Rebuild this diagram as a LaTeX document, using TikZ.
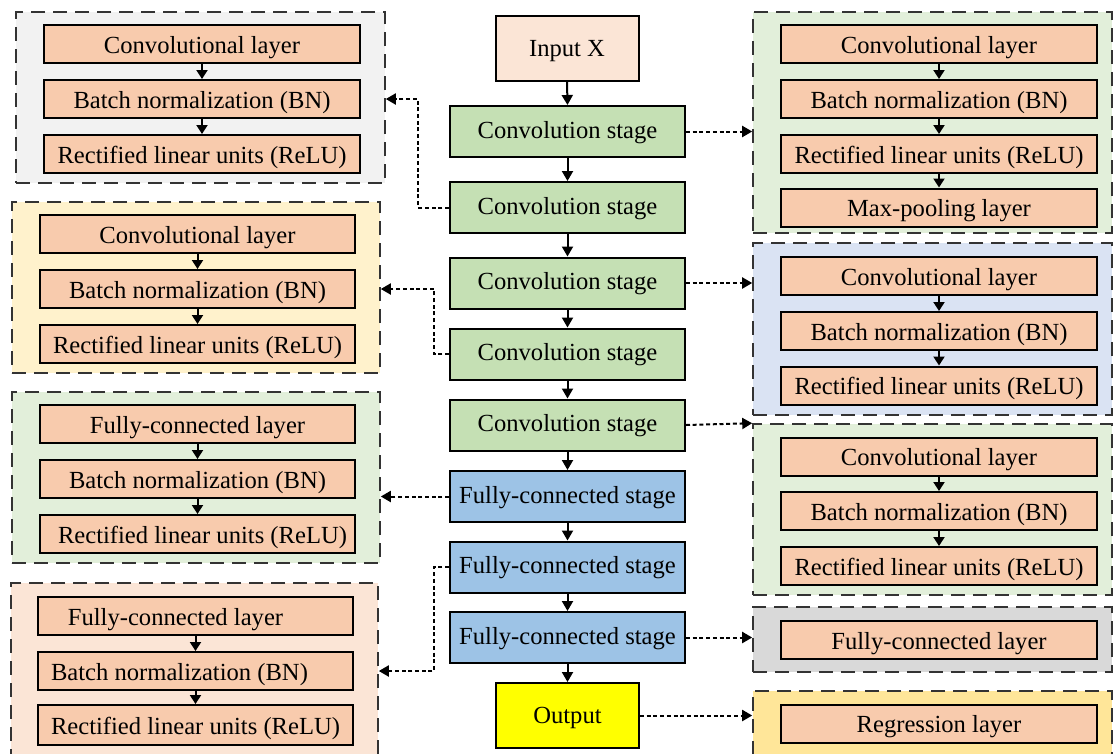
\documentclass[tikz,border=0pt]{standalone}
\usepackage{fontspec}
\setmainfont{Liberation Serif}
\usetikzlibrary{arrows.meta}

\definecolor{grpgray}{HTML}{F2F2F2}
\definecolor{grpyellow}{HTML}{FFF2CC}
\definecolor{grpgreen}{HTML}{E2EFDA}
\definecolor{grppeach}{HTML}{FBE5D6}
\definecolor{grpblue}{HTML}{DAE3F3}
\definecolor{grpdark}{HTML}{D9D9D9}
\definecolor{grpgold}{HTML}{FFE699}
\definecolor{layerfill}{HTML}{F8CBAD}
\definecolor{convfill}{HTML}{C5E0B4}
\definecolor{fcfill}{HTML}{9DC3E6}
\definecolor{inputfill}{HTML}{FBE5D6}
\definecolor{outfill}{HTML}{FFFF00}

\tikzset{
  box/.style={draw=black, line width=2pt, inner sep=0pt, align=center},
  stagebox/.style={box, minimum width=235pt, minimum height=51pt,
    text height=15pt, text depth=1.4pt},
  convbox/.style={stagebox, fill=convfill},
  fcbox/.style={stagebox, fill=fcfill},
  endbox/.style={box, minimum width=143pt, minimum height=65pt,
    text height=17pt, text depth=1pt},
  layerbox/.style={box, fill=layerfill, minimum width=316pt, minimum height=38pt,
    text height=19pt, text depth=0.4pt},
  grp/.style={draw=black!80, line width=1.6pt, dash pattern=on 14pt off 8pt,
    inner sep=0pt},
  flow/.style={line width=2pt, -{Triangle[length=10pt,width=11pt]}},
  tap/.style={line width=2pt, dash pattern=on 4pt off 2.7pt,
    -{Triangle[length=10pt,width=11pt]}},
}

\begin{document}
\begin{tikzpicture}[x=1pt, y=-1pt, font=\fontsize{24.6pt}{29pt}\selectfont]
\useasboundingbox (0,0) rectangle (1115,753);
\clip (0,0) rectangle (1115,753);

% ---- dashed groups (drawn first, behind the layers) ----
\node[grp, fill=grpgray,   minimum width=369pt, minimum height=171pt] (gL1) at (200.5,97.5) {};
\node[grp, fill=grpyellow, minimum width=368pt, minimum height=171pt] (gL2) at (196,287.5) {};
\node[grp, fill=grpgreen,  minimum width=368pt, minimum height=171pt] (gL3) at (196,477.5) {};
\node[grp, fill=grppeach,  minimum width=367pt, minimum height=200pt, overlay] (gL4) at (194.5,683) {};
\node[grp, fill=grpgreen,  minimum width=359pt, minimum height=221pt] (gR1) at (932.5,122.5) {};
\node[grp, fill=grpblue,   minimum width=359pt, minimum height=172pt] (gR2) at (932.5,329) {};
\node[grp, fill=grpgreen,  minimum width=359pt, minimum height=171pt] (gR3) at (932.5,509.5) {};
\node[grp, fill=grpdark,   minimum width=359pt, minimum height=65pt]  (gR4) at (932.5,639.5) {};
\node[grp, fill=grpgold,   minimum width=359pt, minimum height=90pt, overlay]  (gR5) at (932.5,736) {};

% ---- main column ----
\node[endbox, fill=inputfill] (in) at (567,48) {Input X};
\node[convbox] (s1) at (567.5,131.5) {Convolution stage};
\node[convbox] (s2) at (567.5,207.5) {Convolution stage};
\node[convbox] (s3) at (567.5,283)   {Convolution stage};
\node[convbox] (s4) at (567.5,354)   {Convolution stage};
\node[convbox] (s5) at (567.5,425)   {Convolution stage};
\node[fcbox]   (f1) at (567.5,496.5) {Fully-connected stage};
\node[fcbox]   (f2) at (567.5,567)   {Fully-connected stage};
\node[fcbox]   (f3) at (567.5,637.5) {Fully-connected stage};
\node[endbox, fill=outfill] (out) at (567.5,715.5) {Output};

\foreach \a/\b in {in/s1, s1/s2, s2/s3, s3/s4, s4/s5, s5/f1, f1/f2, f2/f3, f3/out}
  \draw[flow] (\a.south) -- (\b.north);

% ---- left groups ----
\node[layerbox] (L1a) at (202,44)  {Convolutional layer};
\node[layerbox] (L1b) at (202,99)  {Batch normalization (BN)};
\node[layerbox] (L1c) at (202,154) {Rectified linear units (ReLU)};

\node[layerbox, minimum width=315pt] (L2a) at (197.5,234) {Convolutional layer};
\node[layerbox, minimum width=315pt] (L2b) at (197.5,289) {Batch normalization (BN)};
\node[layerbox, minimum width=315pt] (L2c) at (197.5,344) {Rectified linear units (ReLU)};

\node[layerbox, minimum width=315pt] (L3a) at (197.5,424) {Fully-connected layer};
\node[layerbox, minimum width=315pt] (L3b) at (197.5,479) {Batch normalization (BN)};
\node[layerbox, minimum width=315pt] (L3c) at (197.5,534) {\hspace*{10pt}Rectified linear units (ReLU)};

\node[layerbox, minimum width=315pt] (L4a) at (195.5,616) {\hspace*{-40pt}Fully-connected layer};
\node[layerbox, minimum width=315pt] (L4b) at (195.5,671) {\hspace*{-32pt}Batch normalization (BN)};
\node[layerbox, minimum width=315pt, minimum height=40pt] (L4c) at (195.5,725) {Rectified linear units (ReLU)};

% ---- right groups ----
\node[layerbox] (R1a) at (939,44)    {Convolutional layer};
\node[layerbox] (R1b) at (939,99)    {Batch normalization (BN)};
\node[layerbox] (R1c) at (939,154)   {Rectified linear units (ReLU)};
\node[layerbox] (R1d) at (939,207.5) {Max-pooling layer};

\node[layerbox] (R2a) at (939,276)   {Convolutional layer};
\node[layerbox] (R2b) at (939,331)   {Batch normalization (BN)};
\node[layerbox] (R2c) at (939,385.5) {Rectified linear units (ReLU)};

\node[layerbox] (R3a) at (939,456.5) {Convolutional layer};
\node[layerbox] (R3b) at (939,511)   {Batch normalization (BN)};
\node[layerbox] (R3c) at (939,566)   {Rectified linear units (ReLU)};

\node[layerbox] (R4a) at (939,640)   {Fully-connected layer};
\node[layerbox] (R5a) at (939,723.5) {Regression layer};

% arrows inside the groups
\foreach \a/\b in {L1a/L1b, L1b/L1c, L2a/L2b, L2b/L2c, L3a/L3b, L3b/L3c,
                   L4a/L4b, L4b/L4c, R1a/R1b, R1b/R1c, R1c/R1d,
                   R2a/R2b, R2b/R2c, R3a/R3b, R3b/R3c}
  \draw[flow, -{Triangle[length=9pt,width=11pt]}] (\a.south) -- (\b.north);

% ---- dotted taps from the stages to their groups ----
\draw[tap] (s1.east) -- (s1.east -| gR1.west);
\draw[tap] (s2.west) -- ++(-31,0) |- (gL1.east |- L1b);
\draw[tap] (s3.east) -- (s3.east -| gR2.west);
\draw[tap] (s4.west) -- ++(-15,0) |- (gL2.east |- L2b);
\draw[tap] (s5.east) -- (gR3.north west);
\draw[tap] (f1.west) -- (f1.west -| gL3.east);
\draw[tap] (f2.west) -- ++(-15,0) |- (gL4.east |- L4b);
\draw[tap] (f3.east) -- (f3.east -| gR4.west);
\draw[tap] (out.east) -- (out.east -| gR5.west);
\end{tikzpicture}
\end{document}
